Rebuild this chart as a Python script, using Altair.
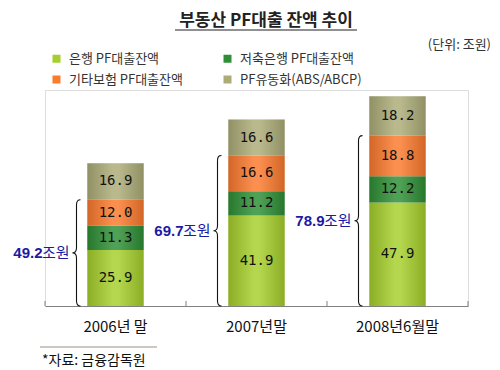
import altair as alt
import pandas as pd

# ---- data ----
categories = ["2006년 말", "2007년말", "2008년6월말"]
series = ["은행 PF대출잔액", "저축은행 PF대출잔액", "기타보험 PF대출잔액", "PF유동화(ABS/ABCP)"]
bank = [25.9, 41.9, 47.9]
savings_bank = [11.3, 11.2, 12.2]
other_insurance = [12.0, 16.6, 18.8]
pf_abs = [16.9, 16.6, 18.2]
brace_totals = [49.2, 69.7, 78.9]
colors = ["#a5cf2c", "#2e8f36", "#fa7a2e", "#acac78"]

rows = []
for s_i, (name, vals) in enumerate(zip(series, [bank, savings_bank, other_insurance, pf_abs])):
    for c, v in zip(categories, vals):
        rows.append({"cat": c, "series": name, "order": s_i, "value": v})
df = pd.DataFrame(rows)
df_brace = pd.DataFrame({"cat": categories, "total": brace_totals})

# legend fills column-first: reorder so rows read 은행|저축은행, 기타보험|PF유동화
legend_order = [series[0], series[2], series[1], series[3]]
legend_colors = [colors[0], colors[2], colors[1], colors[3]]

W, H = 423, 216
HALF_BAND = 28.2
KFONT = "Noto Sans CJK KR"

xenc = alt.X("cat:N", sort=categories,
             scale=alt.Scale(paddingInner=0.6, paddingOuter=0.3),
             axis=alt.Axis(title=None, labelAngle=0, ticks=False, domainColor="#808080",
                           labelFont=KFONT, labelFontSize=15, labelColor="#111",
                           labelPadding=13))
yscale = alt.Scale(domain=[0, 100], nice=False)

base = alt.Chart(df).transform_stack(
    stack="value", groupby=["cat"], as_=["y0", "y1"],
    sort=[alt.SortField("order", order="ascending")]
).transform_calculate(mid="(datum.y0 + datum.y1) / 2")

bars = base.mark_bar().encode(
    x=xenc,
    y=alt.Y("y0:Q", scale=yscale, axis=None),
    y2="y1:Q",
    color=alt.Color("series:N", scale=alt.Scale(domain=legend_order, range=legend_colors),
                    legend=alt.Legend(orient="none", legendX=5, legendY=-38, columns=2,
                                      title=None, symbolType="square", symbolSize=64,
                                      symbolStrokeWidth=0, labelFont=KFONT, labelFontSize=13,
                                      labelColor="#333", columnPadding=38, rowPadding=7,
                                      symbolOffset=0, labelOffset=6)),
)

shade = base.transform_aggregate(total="sum(value)", groupby=["cat"]).mark_bar(
    fill=alt.Gradient(gradient="linear", x1=0, x2=1, y1=0, y2=0,
                      stops=[alt.GradientStop(color="rgba(0,0,0,0.16)", offset=0),
                             alt.GradientStop(color="rgba(255,255,255,0.16)", offset=0.45),
                             alt.GradientStop(color="rgba(255,255,255,0.16)", offset=0.55),
                             alt.GradientStop(color="rgba(0,0,0,0.16)", offset=1)])
).encode(x=alt.X("cat:N", sort=categories), y=alt.Y("total:Q", scale=yscale), y2=alt.datum(0))

values = base.mark_text(font="DejaVu Sans Mono", fontSize=14, color="#111", baseline="middle").encode(
    x=alt.X("cat:N", sort=categories), y=alt.Y("mid:Q", scale=yscale),
    text=alt.Text("value:Q", format=".1f"))

# with an xOffset channel, x sits at the band start
ticks = alt.Chart(df_brace).mark_rule(color="#808080").encode(
    x=alt.X("cat:N", sort=categories), xOffset=alt.value(-42.3),
    y=alt.value(H - 5), y2=alt.value(H))
tick_end = alt.Chart(pd.DataFrame({"a": [0]})).mark_rule(color="#808080").encode(
    x=alt.value(W), y=alt.value(H - 5), y2=alt.value(H))

brace_base = alt.Chart(df_brace).transform_calculate(
    center="datum.total / 2",
    r="datum.total * 1.08",
).transform_calculate(
    a="4 / datum.r", h="5 / datum.r", sz="pow(datum.r * 2, 2)"
).transform_calculate(
    path="'M ' + datum.a + ' -1 Q 0 -1 0 ' + (datum.h - 1) + ' L 0 ' + (-datum.h) + "
         "' Q 0 0 ' + (-datum.a) + ' 0 Q 0 0 0 ' + datum.h + ' L 0 ' + (1 - datum.h) + "
         "' Q 0 1 ' + datum.a + ' 1'"
)

braces = brace_base.mark_point(filled=False, color="#111", strokeWidth=1.1, opacity=1).encode(
    x=alt.X("cat:N", sort=categories), xOffset=alt.value(-39 + HALF_BAND),
    y=alt.Y("center:Q", scale=yscale),
    shape=alt.Shape("path:N", scale=None),
    size=alt.Size("sz:Q", scale=None))

brace_unit = brace_base.mark_text(font=KFONT, fontSize=15, color="#1a1aa6", align="right",
                                  baseline="middle").encode(
    x=alt.X("cat:N", sort=categories), xOffset=alt.value(-46 + HALF_BAND),
    y=alt.Y("center:Q", scale=yscale), text=alt.value("조원"))
brace_num = brace_base.mark_text(font="Liberation Sans", fontSize=15, fontWeight="bold",
                                 color="#1a1aa6", align="right", baseline="middle").encode(
    x=alt.X("cat:N", sort=categories), xOffset=alt.value(-73 + HALF_BAND),
    y=alt.Y("center:Q", scale=yscale), text=alt.Text("total:Q", format=".1f"))

one = pd.DataFrame({"a": [0]})
title = alt.Chart(one).mark_text(font=KFONT, fontSize=17, fontWeight="bold", color="#222",
                                 align="center", baseline="middle").encode(
    x=alt.value(221), y=alt.value(-69), text=alt.value("부동산 PF대출 잔액 추이"))
underline = alt.Chart(one).mark_rule(color="#222", strokeWidth=1.2).encode(
    x=alt.value(130), x2=alt.value(312), y=alt.value(-60))
unit = alt.Chart(one).mark_text(font=KFONT, fontSize=13, color="#333", align="right",
                                baseline="middle").encode(
    x=alt.value(446), y=alt.value(-45), text=alt.value("(단위: 조원)"))
src_line = alt.Chart(one).mark_rule(color="#a09080").encode(
    x=alt.value(-5), x2=alt.value(112), y=alt.value(257))
source = alt.Chart(one).mark_text(font=KFONT, fontSize=14, color="#111", align="left",
                                  baseline="middle").encode(
    x=alt.value(-3), y=alt.value(271), text=alt.value("*자료: 금융감독원"))

chart = alt.layer(
    bars, shade, values, ticks, tick_end, braces, brace_unit, brace_num,
    title, underline, unit, src_line, source
).properties(
    width=W, height=H,
    autosize=alt.AutoSizeParams(type="none"),
    padding={"left": 37, "top": 82, "right": 24, "bottom": 64},
).configure_view(stroke=None).configure(background="white")

chart.save("out.html", embed_options={"renderer": "svg", "actions": False})
